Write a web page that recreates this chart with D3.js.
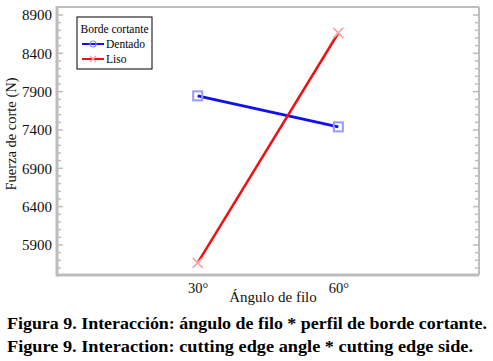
<!DOCTYPE html>
<html>
<head>
<meta charset="utf-8">
<script src="https://cdn.jsdelivr.net/npm/d3@7"></script>
<style>
  body { margin: 0; background: #fff; }
  svg, svg text { font-family: "Times New Roman", "Liberation Serif", Times, serif !important; }
</style>
</head>
<body>
<div id="chart"></div>
<script>
// data
const angles = ["30°", "60°"];
const dentado = [7845, 7440];
const liso = [5665, 8665];
const yTicks = [5900, 6400, 6900, 7400, 7900, 8400, 8900];
const seriesNames = ["Dentado", "Liso"];
const captionEs = "Figura 9. Interacción: ángulo de filo * perfil de borde cortante.";
const captionEn = "Figure 9. Interaction: cutting edge angle * cutting edge side.";

const width = 493, height = 361;
const plot = {left: 57, right: 479, top: 7, bottom: 275};

const svg = d3.select('#chart')
    .append('svg')
    .attr('width', width)
    .attr('height', height);

const x = d3.scalePoint()
    .domain(angles)
    .range([plot.left, plot.right])
    .padding(1);

const y = d3.scaleLinear()
    .domain([5508, 9004])
    .range([plot.bottom, plot.top]);

const axisColor = '#bdbdbd';

// minor + major ticks, left and right
const minor = d3.range(5600, 9001, 100);
svg.append('g')
    .selectAll('line')
    .data(minor)
    .enter()
    .append('line')
    .attr('x1', plot.left)
    .attr('x2', d => plot.left + (yTicks.includes(d) ? 6 : 4))
    .attr('y1', d => y(d))
    .attr('y2', d => y(d))
    .attr('stroke', axisColor)
    .attr('stroke-width', 1.5);
svg.append('g')
    .selectAll('line')
    .data(minor)
    .enter()
    .append('line')
    .attr('x1', plot.right)
    .attr('x2', d => plot.right - (yTicks.includes(d) ? 6 : 4))
    .attr('y1', d => y(d))
    .attr('y2', d => y(d))
    .attr('stroke', axisColor)
    .attr('stroke-width', 1.5);

// frame
svg.append('line').attr('x1', plot.left).attr('x2', plot.right).attr('y1', plot.top).attr('y2', plot.top)
    .attr('stroke', axisColor).attr('stroke-width', 2);
svg.append('line').attr('x1', plot.right).attr('x2', plot.right).attr('y1', plot.top).attr('y2', plot.bottom)
    .attr('stroke', axisColor).attr('stroke-width', 2);
svg.append('line').attr('x1', plot.left).attr('x2', plot.left).attr('y1', plot.top - 1).attr('y2', plot.bottom + 1.5)
    .attr('stroke', axisColor).attr('stroke-width', 3);
svg.append('line').attr('x1', plot.left).attr('x2', plot.right).attr('y1', plot.bottom).attr('y2', plot.bottom)
    .attr('stroke', axisColor).attr('stroke-width', 3);

// y tick labels
const yAxis = d3.axisLeft(y).tickValues(yTicks).tickSize(0).tickPadding(5).tickFormat(d3.format('d'));
const gy = svg.append('g')
    .attr('transform', `translate(${plot.left},0)`)
    .call(yAxis)
    .attr('font-family', null);
gy.select('.domain').remove();
gy.selectAll('text')
    .style('font-size', '15px')
    .attr('fill', '#111');

// x tick labels
const xAxis = d3.axisBottom(x).tickSize(0).tickPadding(8);
const gx = svg.append('g')
    .attr('transform', `translate(0,${plot.bottom})`)
    .call(xAxis)
    .attr('font-family', null);
gx.select('.domain').remove();
gx.selectAll('text')
    .style('font-size', '14.5px')
    .attr('fill', '#111');

// axis titles
svg.append('text')
    .attr('x', 273)
    .attr('y', 302)
    .attr('text-anchor', 'middle')
    .style('font-size', '15px')
    .attr('fill', '#111')
    .text('Ángulo de filo');

svg.append('text')
    .attr('transform', 'translate(16,134) rotate(-90)')
    .attr('text-anchor', 'middle')
    .style('font-size', '14.5px')
    .attr('fill', '#111')
    .text('Fuerza de corte (N)');

// series
const line = d3.line()
    .x((d, i) => x(angles[i]))
    .y(d => y(d));

svg.append('path')
    .datum(dentado)
    .attr('d', line)
    .attr('fill', 'none')
    .attr('stroke', '#1010f0')
    .attr('stroke-width', 3);

svg.append('path')
    .datum(liso)
    .attr('d', line)
    .attr('fill', 'none')
    .attr('stroke', '#f01010')
    .attr('stroke-width', 2.5);

// markers
svg.append('g')
    .selectAll('rect')
    .data(dentado)
    .enter()
    .append('rect')
    .attr('x', (d, i) => x(angles[i]) - 4.5)
    .attr('y', d => y(d) - 4.5)
    .attr('width', 9)
    .attr('height', 9)
    .attr('fill', 'none')
    .attr('stroke', '#9a9af5')
    .attr('stroke-width', 2);

const cross = svg.append('g');
liso.forEach((v, i) => {
    const cx = x(angles[i]), cy = y(v);
    cross.append('path')
        .attr('d', `M${cx - 5},${cy - 5}L${cx + 5},${cy + 5}M${cx - 5},${cy + 5}L${cx + 5},${cy - 5}`)
        .attr('stroke', '#f7a8a8')
        .attr('stroke-width', 1.8);
});

// legend
const lg = svg.append('g').attr('transform', 'translate(77,17)');
lg.append('rect')
    .attr('width', 75)
    .attr('height', 52)
    .attr('fill', '#fff')
    .attr('stroke', '#000')
    .attr('stroke-width', 1);
lg.append('text')
    .attr('x', 37.5)
    .attr('y', 16)
    .attr('text-anchor', 'middle')
    .style('font-size', '11.5px')
    .text('Borde cortante');
const legColors = ['#1010f0', '#f01010'];
seriesNames.forEach((name, i) => {
    const yy = 27 + i * 15;
    lg.append('line')
        .attr('x1', 5).attr('x2', 27)
        .attr('y1', yy).attr('y2', yy)
        .attr('stroke', legColors[i])
        .attr('stroke-width', 2);
    if (i === 0) {
        lg.append('circle').attr('cx', 16).attr('cy', yy).attr('r', 3)
            .attr('fill', 'none').attr('stroke', '#8f8ff5').attr('stroke-width', 1.2);
    } else {
        lg.append('path')
            .attr('d', `M13,${yy - 3}L19,${yy + 3}M13,${yy + 3}L19,${yy - 3}`)
            .attr('stroke', '#f7a0a0').attr('stroke-width', 1.2);
    }
    lg.append('text')
        .attr('x', 29)
        .attr('y', yy + 4)
        .style('font-size', '11.5px')
        .text(name);
});

// caption
svg.append('text')
    .attr('x', 7)
    .attr('y', 329)
    .style('font-size', '16px')
    .attr('font-weight', 'bold')
    .attr('textLength', 480)
    .attr('lengthAdjust', 'spacingAndGlyphs')
    .text(captionEs);
svg.append('text')
    .attr('x', 7)
    .attr('y', 352)
    .style('font-size', '16px')
    .attr('font-weight', 'bold')
    .attr('textLength', 466)
    .attr('lengthAdjust', 'spacingAndGlyphs')
    .text(captionEn);
</script>
</body>
</html>
